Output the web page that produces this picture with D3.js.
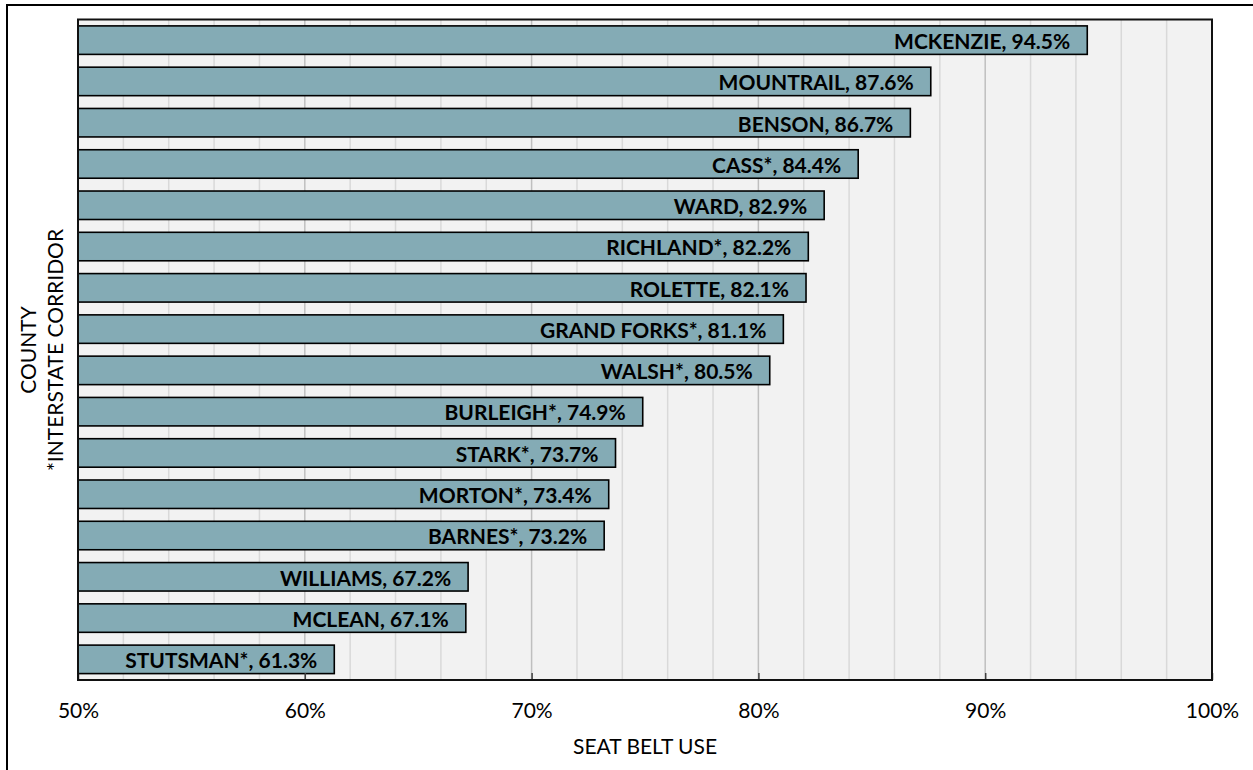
<!DOCTYPE html>
<html>
	<head>
		<meta charset="utf-8">
		<title>Seat belt use by county</title>
		<style>
			body { margin: 0; background: #fff; }
			text { font-family: Lato, "Open Sans", sans-serif; fill: #000; }
			.axis text { font-size: 21px; }
			.axis .domain { display: none; }
			.axis line { stroke: #404040; stroke-width: 1.5; }
			.bar-label { font-size: 21px; font-weight: bold; }
			.title { font-size: 21px; }
		</style>
		<script src="https://d3js.org/d3.v7.min.js"></script>
	</head>
	<body>
		<div id="chart"></div>
		<script>
			// data
			var counties = ["MCKENZIE", "MOUNTRAIL", "BENSON", "CASS*", "WARD", "RICHLAND*", "ROLETTE", "GRAND FORKS*",
				"WALSH*", "BURLEIGH*", "STARK*", "MORTON*", "BARNES*", "WILLIAMS", "MCLEAN", "STUTSMAN*"];
			var beltUse = [0.945, 0.876, 0.867, 0.844, 0.829, 0.822, 0.821, 0.811,
				0.805, 0.749, 0.737, 0.734, 0.732, 0.672, 0.671, 0.613];
			var xTicks = [0.5, 0.6, 0.7, 0.8, 0.9, 1.0];
			var xMinor = [0.52, 0.54, 0.56, 0.58, 0.62, 0.64, 0.66, 0.68, 0.72, 0.74, 0.76, 0.78,
				0.82, 0.84, 0.86, 0.88, 0.92, 0.94, 0.96, 0.98];

			var data = counties.map(function(c, i) { return {county: c, value: beltUse[i]}; });

			// dimensions
			var W = 1253, H = 770;
			var plot = {left: 78, right: 1212, top: 19.5, bottom: 680};

			var svg = d3.select("#chart").append("svg")
				.attr("width", W)
				.attr("height", H);

			// outer chart border (runs off the right/bottom edge)
			svg.append("rect")
				.attr("x", 7).attr("y", 5)
				.attr("width", W + 10).attr("height", H + 10)
				.attr("fill", "#fff")
				.attr("stroke", "#000")
				.attr("stroke-width", 2);

			var x = d3.scaleLinear()
				.domain([0.5, 1])
				.range([plot.left, plot.right]);

			var y = d3.scaleBand()
				.domain(counties)
				.range([plot.top, plot.bottom])
				.paddingInner(0.31)
				.paddingOuter(0.155);

			// plot background
			svg.append("rect")
				.attr("x", plot.left).attr("y", plot.top)
				.attr("width", plot.right - plot.left)
				.attr("height", plot.bottom - plot.top)
				.attr("fill", "#f2f2f2");

			// gridlines
			svg.append("g").selectAll("line")
				.data(xMinor)
				.enter().append("line")
				.attr("x1", function(d) { return x(d); })
				.attr("x2", function(d) { return x(d); })
				.attr("y1", plot.top).attr("y2", plot.bottom)
				.attr("stroke", "#d9d9d9")
				.attr("stroke-width", 1.5);

			svg.append("g").selectAll("line")
				.data(xTicks.slice(1, -1))
				.enter().append("line")
				.attr("x1", function(d) { return x(d); })
				.attr("x2", function(d) { return x(d); })
				.attr("y1", plot.top).attr("y2", plot.bottom)
				.attr("stroke", "#bfbfbf")
				.attr("stroke-width", 1.5);

			// bars
			svg.append("g").selectAll("rect")
				.data(data)
				.enter().append("rect")
				.attr("x", x(0.5))
				.attr("y", function(d) { return y(d.county); })
				.attr("width", function(d) { return x(d.value) - x(0.5); })
				.attr("height", y.bandwidth())
				.attr("fill", "#84abb5")
				.attr("stroke", "#000")
				.attr("stroke-width", 1.6);

			// bar labels
			var pct = d3.format(".1%");
			svg.append("g").selectAll("text")
				.data(data)
				.enter().append("text")
				.attr("class", "bar-label")
				.attr("x", function(d) { return x(d.value) - 17; })
				.attr("y", function(d) { return y(d.county) + y.bandwidth() / 2; })
				.attr("dy", "0.42em")
				.attr("text-anchor", "end")
				.text(function(d) { return d.county + ", " + pct(d.value); });

			// x axis
			svg.append("g")
				.attr("class", "axis")
				.attr("transform", "translate(0," + plot.bottom + ")")
				.call(d3.axisBottom(x)
					.tickValues(xTicks)
					.tickFormat(d3.format(".0%"))
					.tickSizeInner(-7)
					.tickSizeOuter(0)
					.tickPadding(23));

			// plot border
			svg.append("rect")
				.attr("x", plot.left).attr("y", plot.top)
				.attr("width", plot.right - plot.left)
				.attr("height", plot.bottom - plot.top)
				.attr("fill", "none")
				.attr("stroke", "#111")
				.attr("stroke-width", 2);

			// axis titles
			svg.append("text")
				.attr("class", "title")
				.attr("x", (plot.left + plot.right) / 2)
				.attr("y", 754)
				.attr("text-anchor", "middle")
				.text("SEAT BELT USE");

			var yTitle = svg.append("text")
				.attr("class", "title")
				.attr("transform", "translate(0,350) rotate(-90)")
				.attr("text-anchor", "middle");
			yTitle.append("tspan").attr("x", 0).attr("y", 36).text("COUNTY");
			yTitle.append("tspan").attr("x", 0).attr("y", 63).text("*INTERSTATE CORRIDOR");
		</script>
	</body>
</html>
